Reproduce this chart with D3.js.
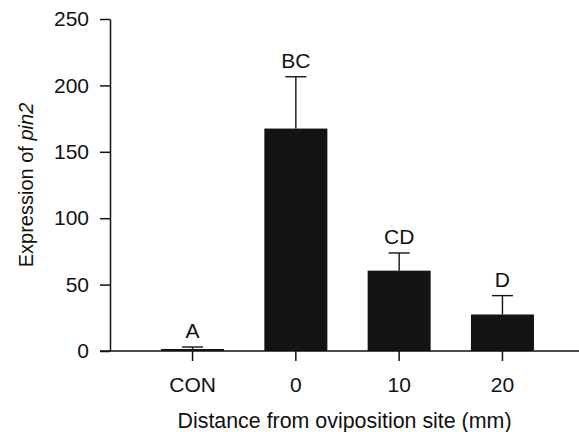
<!DOCTYPE html>
<html>
<head>
<meta charset="utf-8">
<script src="https://cdn.jsdelivr.net/npm/d3@7"></script>
<style>
  body { margin: 0; background: #fff; }
  svg text { font-family: "Liberation Sans", Arial, sans-serif; fill: #111; }
</style>
</head>
<body>
<svg id="chart" width="579" height="432"></svg>
<script>
const categories = ["CON", "0", "10", "20"];
const means = [1.5, 167.5, 60.5, 27.5];
const errors = [1.5, 39, 13.3, 14.2];
const letters = ["A", "BC", "CD", "D"];
const yTicks = [0, 50, 100, 150, 200, 250];

const svg = d3.select("#chart");

const x = d3.scaleBand()
  .domain(categories)
  .range([110, 585])
  .paddingInner(0.39)
  .paddingOuter(0.494);

const y = d3.scaleLinear().domain([0, 250]).range([351, 19]);

// bars
svg.append("g")
  .selectAll("rect")
  .data(categories)
  .enter()
  .append("rect")
  .attr("x", (d) => x(d))
  .attr("width", x.bandwidth())
  .attr("y", (d, i) => y(means[i]))
  .attr("height", (d, i) => y(0) - y(means[i]))
  .attr("fill", "#151212");

// upper error bars
const err = svg.append("g").attr("stroke", "#151212").attr("stroke-width", 1.4);
categories.forEach((c, i) => {
  const cx = x(c) + x.bandwidth() / 2;
  err.append("line")
    .attr("x1", cx).attr("x2", cx)
    .attr("y1", y(means[i])).attr("y2", y(means[i] + errors[i]));
  err.append("line")
    .attr("x1", cx - 10.5).attr("x2", cx + 10.5)
    .attr("y1", y(means[i] + errors[i])).attr("y2", y(means[i] + errors[i]));
});

// letters
svg.append("g")
  .selectAll("text")
  .data(categories)
  .enter()
  .append("text")
  .attr("x", (d) => x(d) + x.bandwidth() / 2)
  .attr("y", (d, i) => y(means[i] + errors[i]) - 9)
  .attr("text-anchor", "middle")
  .attr("font-size", 21)
  .text((d, i) => letters[i]);

// y axis
const yAxis = svg.append("g")
  .attr("transform", "translate(110,0)")
  .call(d3.axisLeft(y).tickValues(yTicks).tickSize(10).tickPadding(11).tickSizeOuter(0));

// x axis
const xAxis = svg.append("g")
  .attr("transform", "translate(0,351)")
  .call(d3.axisBottom(x).tickSize(10).tickPadding(16).tickSizeOuter(0));
xAxis.select(".domain").attr("d", "M100,0H579");

[yAxis, xAxis].forEach((a) => {
  a.selectAll("path, line").attr("stroke", "#111").attr("stroke-width", 1.5);
  a.selectAll("text").attr("font-size", 21).attr("fill", "#111")
    .style("font-family", "'Liberation Sans', Arial, sans-serif");
});

// axis titles
svg.append("text")
  .attr("x", 344.5)
  .attr("y", 428)
  .attr("text-anchor", "middle")
  .attr("font-size", 21.4)
  .text("Distance from oviposition site (mm)");

const yt = svg.append("text")
  .attr("transform", "translate(33,185) rotate(-90)")
  .attr("text-anchor", "middle")
  .attr("font-size", 20);
yt.append("tspan").text("Expression of ");
yt.append("tspan").attr("font-style", "italic").text("pin2");
</script>
</body>
</html>
